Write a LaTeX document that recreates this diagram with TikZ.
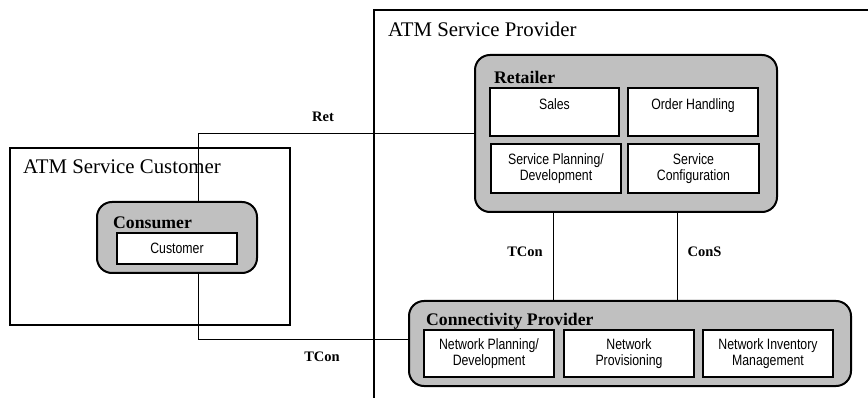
\documentclass[tikz,border=0pt]{standalone}
\usepackage{fontspec}
\setmainfont{Liberation Serif}
\newfontfamily\funcfont[FakeStretch=0.82]{Liberation Sans}
\usetikzlibrary{positioning, calc}
\definecolor{RoleGray}{RGB}{192,192,192}
\pgfdeclarelayer{back}
\pgfdeclarelayer{mid}
\pgfsetlayers{back,mid,main}

\begin{document}
\begin{tikzpicture}[x=1pt, y=-1pt,
  party/.style={draw, line width=2.6pt, inner sep=0pt},
  partytitle/.style={anchor=base west, inner sep=0pt, font=\fontsize{20.8}{24}\selectfont},
  role/.style={draw, line width=2pt, fill=RoleGray, rounded corners=15pt, inner sep=0pt},
  roletitle/.style={anchor=base west, inner sep=0pt, font=\fontsize{17.7}{20}\selectfont\bfseries},
  func/.style={draw, line width=2pt, fill=white, align=center, inner sep=0pt,
    minimum width=130pt, minimum height=48pt, font=\funcfont\fontsize{15}{16.5}\selectfont},
  link/.style={line width=1pt},
  linklabel/.style={anchor=base, inner sep=0pt, font=\fontsize{14.5}{17}\selectfont\bfseries}]
\useasboundingbox (0,0) rectangle (868,398);

% parties
\begin{pgfonlayer}{back}
\node[party, minimum width=280pt, minimum height=177pt] (ASC) at (150,236.5) {};
\node[partytitle] (ASCtitle) at (23,174) {ATM Service Customer};
\begin{scope}
\clip (0,0) rectangle (868,398);
\draw[line width=2.6pt] (374,420) -- (374,10) -- (900,10);
\end{scope}
\node[partytitle] (ASPtitle) at (388,37) {ATM Service Provider};
\end{pgfonlayer}

% customer side
\node[role, minimum width=160pt, minimum height=71pt] (Consumer) at (177,237.5) {};
\node[roletitle] (ConsumerT) at (113,229) {Consumer};
\node[func, minimum width=120pt, minimum height=31pt] (Customer) at (177,248.5) {Customer};

% retailer
\node[role, minimum width=302pt, minimum height=157pt] (Retailer) at (626,133.5) {};
\node[roletitle] (RetailerT) at (494,84) {Retailer};
\node[func, minimum width=129pt] (Sales) at (554.5,112) {Sales\\\mbox{}};
\node[func, right=7pt of Sales] (Order) {Order Handling\\\mbox{}};
\node[func, minimum height=49pt] (SPlan) at (556,168.5) {Service Planning/\\Development};
\node[func, minimum width=131pt, minimum height=49pt, right=5pt of SPlan] (SConf) {Service\\Configuration};

% connectivity provider
\node[role, minimum width=442pt, minimum height=85pt] (Connectivity) at (630,343.5) {};
\node[roletitle] (ConnectivityT) at (426,326) {Connectivity Provider};
\node[func, minimum height=47pt] (NPlan) at (489,353.5) {Network Planning/\\Development};
\node[func, minimum height=47pt, right=8pt of NPlan] (NProv) {Network\\Provisioning};
\node[func, minimum height=47pt, right=7pt of NProv] (NInv) {Network Inventory\\Management};

% reference points
\begin{pgfonlayer}{mid}
\coordinate (retup) at ($(Consumer.north)+(21,0)$);
\coordinate (tcondown) at ($(Consumer.south)+(21,0)$);
\coordinate (tconbend) at (198,339);
\draw[link] (retup) |- (Retailer.west);
\draw[link] (tcondown) -- (tconbend) -- (Connectivity.west |- tconbend);
\draw[link] ($(Retailer.south)+(-73,0)$) -- ($(Connectivity.north)+(-77,0)$);
\draw[link] ($(Retailer.south)+(51,0)$) -- ($(Connectivity.north)+(47,2)$);
\end{pgfonlayer}

\node[linklabel] (RetL) at (323,122) {Ret};
\node[linklabel] (TConL) at (322,361) {TCon};
\node[linklabel] (TConM) at (525,257) {TCon};
\node[linklabel] (ConSL) at (704.5,257) {ConS};
\end{tikzpicture}
\end{document}
